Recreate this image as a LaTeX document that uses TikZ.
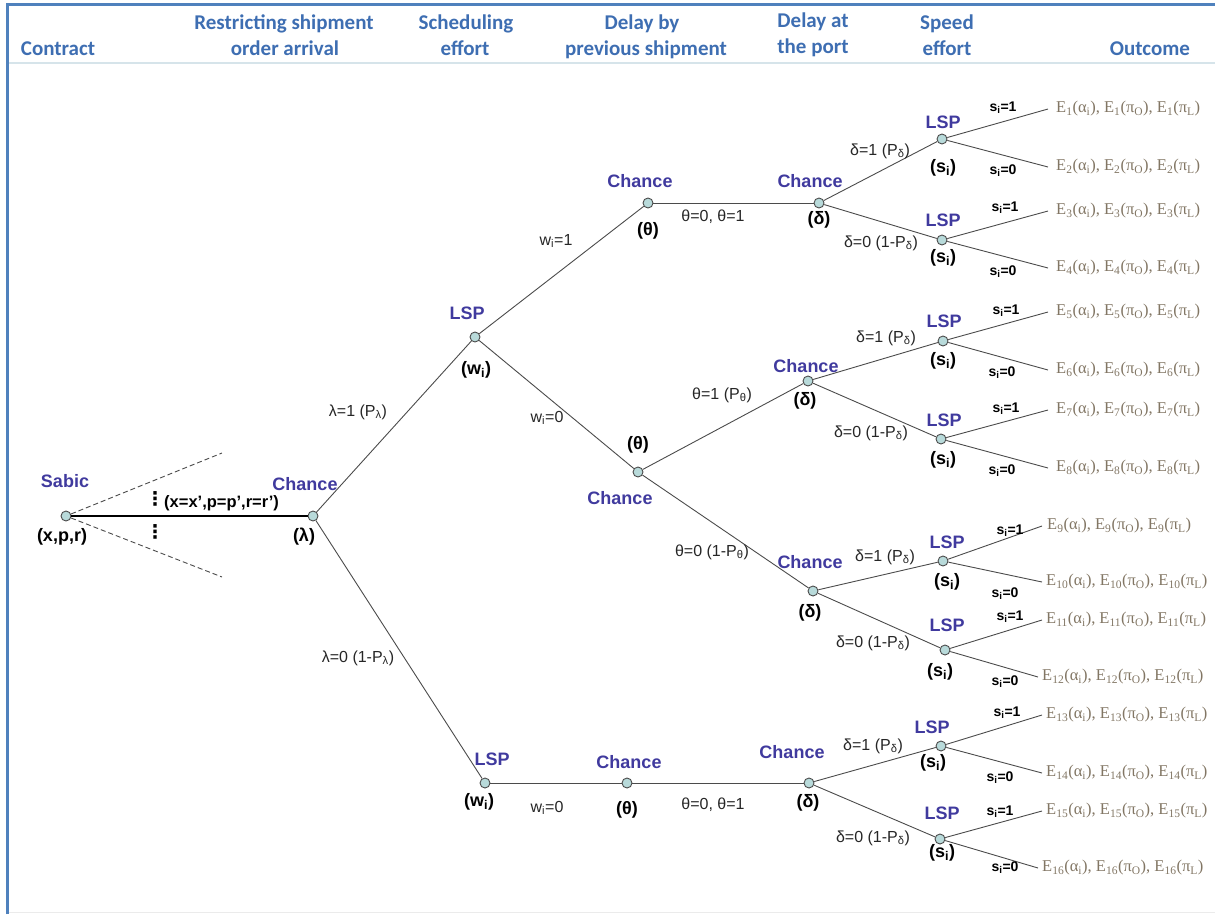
\documentclass[tikz,border=0pt]{standalone}
\usepackage{fontspec}
\setmainfont{Liberation Sans}
\newfontfamily\hdrfont{Carlito}
\newfontfamily\outfont{Liberation Serif}
\newfontfamily\symfont{DejaVu Sans}

\definecolor{hdrblue}{RGB}{62,110,178}
\definecolor{framecol}{RGB}{79,129,189}
\definecolor{rulecol}{RGB}{214,228,234}
\definecolor{playercol}{RGB}{64,58,158}
\definecolor{dotfill}{RGB}{184,218,218}
\definecolor{edgecol}{RGB}{75,75,75}
\definecolor{outcol}{RGB}{130,118,100}

\newcommand\sub[1]{\textsubscript{#1}}
\newcommand\payoffs[1]{E\sub{#1}(α\sub{i}), E\sub{#1}(π\sub{O}), E\sub{#1}(π\sub{L})}

\begin{document}
\begin{tikzpicture}[x=1pt,y=-1pt,
  dot/.style={circle, draw=edgecol, fill=dotfill, line width=0.9pt, minimum size=10pt, inner sep=0pt},
  player/.style={font=\fontsize{18}{20}\selectfont\bfseries, text=playercol, inner sep=0pt},
  info/.style={font=\fontsize{18}{20}\selectfont\bfseries, inner sep=0pt},
  hdr/.style={font=\hdrfont\bfseries\fontsize{21}{24}\selectfont, text=hdrblue, anchor=base, inner sep=0pt},
  elab/.style={font=\fontsize{16}{18}\selectfont, text=black!85, inner sep=0pt},
  slab/.style={font=\fontsize{14}{16}\selectfont\bfseries, inner sep=0pt},
  outc/.style={font=\outfont\fontsize{16.5}{18}\selectfont, text=outcol, anchor=west, inner xsep=8pt, inner ysep=0pt},
  vdotlab/.style={font=\symfont\bfseries\fontsize{19}{20}\selectfont, inner sep=0pt},
  branch/.style={draw=edgecol, line width=0.9pt},
]
\useasboundingbox (0,0) rectangle (1215,914);

% frame and header rule
\draw[framecol, line width=3pt] (7,914) -- (7,4) -- (1215,4);
\draw[rulecol, line width=2pt] (9,63) -- (1215,63);
\draw[black!8, line width=1.5pt] (9,912.5) -- (1215,912.5);

% column headings
\node[hdr] at (58,55) {Contract};
\node[hdr] at (284,29) {Restricting shipment};
\node[hdr] at (285,55) {order arrival};
\node[hdr] at (466,29) {Scheduling};
\node[hdr] at (465,55) {effort};
\node[hdr] at (642,29) {Delay by};
\node[hdr] at (646,55) {previous shipment};
\node[hdr] at (813,27) {Delay at};
\node[hdr] at (813,53) {the port};
\node[hdr] at (947,29) {Speed};
\node[hdr] at (947,55) {effort};
\node[hdr] at (1150,55) {Outcome};

% decision and chance nodes
\node[dot] (sab) at (66,516) {};
\node[dot] (lam) at (313,516) {};
\node[dot] (wA) at (475,337) {};
\node[dot] (wB) at (485,783) {};
\node[dot] (tA) at (648,203) {};
\node[dot] (tB) at (638,472) {};
\node[dot] (tC) at (627,783) {};
\node[dot] (dA) at (819,203) {};
\node[dot] (dB) at (808,381) {};
\node[dot] (dC) at (813,591) {};
\node[dot] (dD) at (809,783) {};
\node[dot] (s1) at (942,139) {};
\node[dot] (s2) at (942,240) {};
\node[dot] (s3) at (943,341) {};
\node[dot] (s4) at (941,439) {};
\node[dot] (s5) at (943,561) {};
\node[dot] (s6) at (945,650) {};
\node[dot] (s7) at (941,746) {};
\node[dot] (s8) at (940,839) {};

% outcomes
\node[outc] (e1)  at (1048,109) {\payoffs{1}};
\node[outc] (e2)  at (1048,167) {\payoffs{2}};
\node[outc] (e3)  at (1048,211) {\payoffs{3}};
\node[outc] (e4)  at (1048,268) {\payoffs{4}};
\node[outc] (e5)  at (1048,312) {\payoffs{5}};
\node[outc] (e6)  at (1048,370) {\payoffs{6}};
\node[outc] (e7)  at (1048,410) {\payoffs{7}};
\node[outc] (e8)  at (1048,468) {\payoffs{8}};
\node[outc, inner xsep=5pt] (e9)  at (1042,526) {\payoffs{9}};
\node[outc, inner xsep=4pt] (e10) at (1042,582) {\payoffs{10}};
\node[outc, inner xsep=4pt] (e11) at (1042,620) {\payoffs{11}};
\node[outc, inner xsep=4pt] (e12) at (1038,677) {\payoffs{12}};
\node[outc, inner xsep=4pt] (e13) at (1042,715) {\payoffs{13}};
\node[outc, inner xsep=4pt] (e14) at (1042,773) {\payoffs{14}};
\node[outc, inner xsep=4pt] (e15) at (1042,811) {\payoffs{15}};
\node[outc, inner xsep=4pt] (e16) at (1038,868) {\payoffs{16}};

% contract alternatives
\coordinate (altU) at (222,453);
\coordinate (altD) at (222,577);
\draw[edgecol, line width=0.9pt, dash pattern=on 5pt off 3pt] (sab) -- (altU);
\draw[edgecol, line width=0.9pt, dash pattern=on 5pt off 3pt] (sab) -- (altD);
\draw[black, line width=1.3pt] (sab) -- (lam);
\node[vdotlab] at (155,499) {⋮};
\node[vdotlab] at (155,532) {⋮};
\node[font=\fontsize{16.5}{18}\selectfont\bfseries, inner sep=0pt, anchor=west] at (164,503) {(x=x’,p=p’,r=r’)};

% branches
\draw[branch] (lam) -- (wA);
\draw[branch] (lam) -- (wB);
\draw[branch] (wA) -- (tA);
\draw[branch] (wA) -- (tB);
\draw[branch] (wB) -- (tC);
\draw[branch] (tA) -- (dA);
\draw[branch] (tB) -- (dB);
\draw[branch] (tB) -- (dC);
\draw[branch] (tC) -- (dD);
\draw[branch] (dA) -- (s1);
\draw[branch] (dA) -- (s2);
\draw[branch] (dB) -- (s3);
\draw[branch] (dB) -- (s4);
\draw[branch] (dC) -- (s5);
\draw[branch] (dC) -- (s6);
\draw[branch] (dD) -- (s7);
\draw[branch] (dD) -- (s8);
\foreach \s/\a/\b in {s1/e1/e2, s2/e3/e4, s3/e5/e6, s4/e7/e8, s5/e9/e10, s6/e11/e12, s7/e13/e14, s8/e15/e16}{
  \draw[branch] (\s) -- (\a.west);
  \draw[branch] (\s) -- (\b.west);
}

% node owners and information labels
\node[player] at (65,481) {Sabic};
\node[info] at (62,537) {(x,p,r)};
\node[player] at (305,484) {Chance};
\node[info] at (304,537) {(λ)};
\node[player] at (467,313) {LSP};
\node[info] at (476,370) {(w\sub{i})};
\node[player] at (492,759) {LSP};
\node[info] at (479,802) {(w\sub{i})};
\node[player] at (640,181) {Chance};
\node[info] at (648,231) {(θ)};
\node[info] at (638,445) {(θ)};
\node[player] at (620,498) {Chance};
\node[player] at (629,762) {Chance};
\node[info] at (627,810) {(θ)};
\node[player] at (810,181) {Chance};
\node[info] at (819,220) {(δ)};
\node[player] at (806,366) {Chance};
\node[info] at (805,401) {(δ)};
\node[player] at (810,562) {Chance};
\node[info] at (810,613) {(δ)};
\node[player] at (792,752) {Chance};
\node[info] at (808,803) {(δ)};
\node[player] at (943,122) {LSP};
\node[info] at (943,168) {(s\sub{i})};
\node[player] at (943,220) {LSP};
\node[info] at (943,258) {(s\sub{i})};
\node[player] at (944,321) {LSP};
\node[info] at (943,361) {(s\sub{i})};
\node[player] at (944,420) {LSP};
\node[info] at (943,460) {(s\sub{i})};
\node[player] at (947,542) {LSP};
\node[info] at (947,582) {(s\sub{i})};
\node[player] at (947,625) {LSP};
\node[info] at (940,672) {(s\sub{i})};
\node[player] at (932,727) {LSP};
\node[info] at (933,763) {(s\sub{i})};
\node[player] at (942,813) {LSP};
\node[info] at (942,853) {(s\sub{i})};

% branch labels
\node[elab] at (358,412) {λ=1 (P\sub{λ})};
\node[elab] at (358,658) {λ=0 (1-P\sub{λ})};
\node[elab] at (556,241) {w\sub{i}=1};
\node[elab] at (547,418) {w\sub{i}=0};
\node[elab] at (547,808) {w\sub{i}=0};
\node[elab] at (713,217) {θ=0, θ=1};
\node[elab] at (722,395) {θ=1 (P\sub{θ})};
\node[elab] at (712,552) {θ=0 (1-P\sub{θ})};
\node[elab] at (713,805) {θ=0, θ=1};
\node[elab] at (880,151) {δ=1 (P\sub{δ})};
\node[elab] at (881,243) {δ=0 (1-P\sub{δ})};
\node[elab] at (886,338) {δ=1 (P\sub{δ})};
\node[elab] at (871,433) {δ=0 (1-P\sub{δ})};
\node[elab] at (885,557) {δ=1 (P\sub{δ})};
\node[elab] at (873,643) {δ=0 (1-P\sub{δ})};
\node[elab] at (873,746) {δ=1 (P\sub{δ})};
\node[elab] at (873,838) {δ=0 (1-P\sub{δ})};

% speed effort labels
\node[slab] at (1003,108) {s\sub{i}=1};
\node[slab] at (1003,171) {s\sub{i}=0};
\node[slab] at (1005,208) {s\sub{i}=1};
\node[slab] at (1003,272) {s\sub{i}=0};
\node[slab] at (1006,311) {s\sub{i}=1};
\node[slab] at (1002,373) {s\sub{i}=0};
\node[slab] at (1006,409) {s\sub{i}=1};
\node[slab] at (1002,471) {s\sub{i}=0};
\node[slab] at (1010,531) {s\sub{i}=1};
\node[slab] at (1005,594) {s\sub{i}=0};
\node[slab] at (1010,617) {s\sub{i}=1};
\node[slab] at (1005,682) {s\sub{i}=0};
\node[slab] at (1007,713) {s\sub{i}=1};
\node[slab] at (1000,778) {s\sub{i}=0};
\node[slab] at (1000,812) {s\sub{i}=1};
\node[slab] at (1005,868) {s\sub{i}=0};
\end{tikzpicture}
\end{document}
